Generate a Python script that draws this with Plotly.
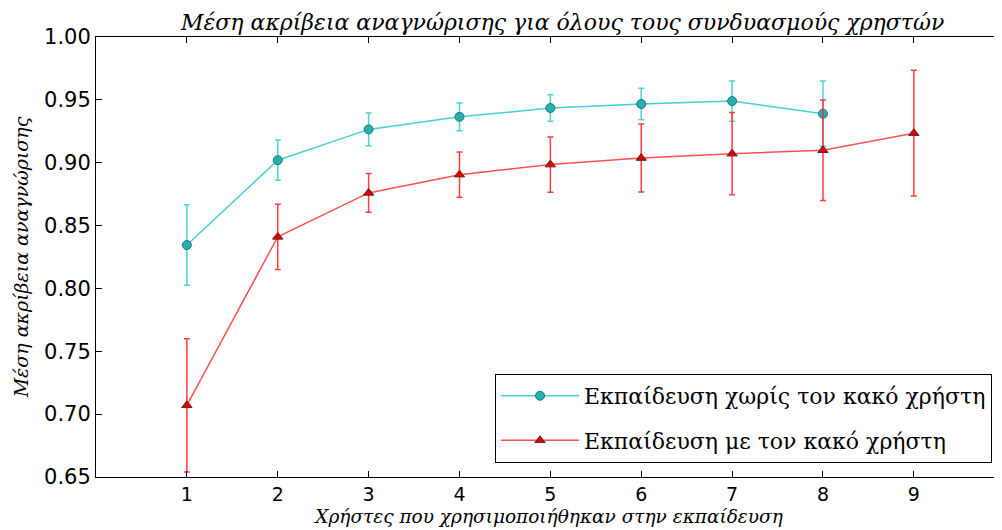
import plotly.graph_objects as go

users = [1, 2, 3, 4, 5, 6, 7, 8, 9]

without_bad_x = [1, 2, 3, 4, 5, 6, 7, 8]
without_bad = [0.8345, 0.902, 0.9265, 0.9365, 0.9435, 0.9467, 0.949, 0.939]
without_bad_err = [0.032, 0.016, 0.013, 0.011, 0.0105, 0.0126, 0.016, 0.026]

with_bad_x = [1, 2, 3, 4, 5, 6, 7, 8, 9]
with_bad = [0.707, 0.841, 0.876, 0.8905, 0.8985, 0.9037, 0.9072, 0.9099, 0.9235]
with_bad_err = [0.053, 0.026, 0.0155, 0.018, 0.022, 0.027, 0.0327, 0.040, 0.050]

title = "Μέση ακρίβεια αναγνώρισης για όλους τους συνδυασμούς χρηστών"
xlabel = "Χρήστες που χρησιμοποιήθηκαν στην εκπαίδευση"
ylabel = "Μέση ακρίβεια αναγνώρισης"
name_without = "Εκπαίδευση χωρίς τον κακό χρήστη"
name_with = "Εκπαίδευση με τον κακό χρήστη"

serif = "DejaVu Serif"
sans = "DejaVu Sans"

fig = go.Figure()
fig.add_trace(go.Scatter(
    x=without_bad_x, y=without_bad, name=name_without, mode="lines+markers",
    legendgroup="a",
    line=dict(color="rgba(38,200,200,0.85)", width=1.5),
    marker=dict(symbol="circle", size=9, color="#1FB3B3", line=dict(color="#2F6F6F", width=1)),
    error_y=dict(type="data", array=without_bad_err, visible=True, color="rgba(60,205,205,0.9)",
                 thickness=1.5, width=3),
))
fig.add_trace(go.Scatter(
    x=with_bad_x, y=with_bad, name=name_with, mode="lines+markers",
    legendgroup="b",
    line=dict(color="rgba(255,50,50,0.85)", width=1.5),
    marker=dict(symbol="triangle-up", size=9, color="#DD0000", line=dict(color="#702020", width=1)),
    error_y=dict(type="data", array=with_bad_err, visible=True, color="rgba(255,40,40,0.9)",
                 thickness=1.5, width=3),
))

fig.update_layout(
    width=994, height=522,
    margin=dict(l=88, r=0, t=29, b=53, autoexpand=False),
    paper_bgcolor="white", plot_bgcolor="white",
    title=dict(text=title, x=0.558, xanchor="center", y=0.972, yanchor="middle",
               font=dict(family=serif, size=22, color="black", style="italic")),
    showlegend=True,
    legend=dict(x=0.989, y=0.032, xanchor="right", yanchor="bottom",
                bgcolor="white", bordercolor="black", borderwidth=1,
                font=dict(family=serif, size=22, color="black"),
                itemwidth=78, traceorder="grouped", tracegroupgap=13),
    xaxis=dict(range=[0, 9.97], tickvals=users, ticktext=[str(u) for u in users],
               automargin=False,
               showgrid=False, zeroline=False, showline=True, linecolor="black", linewidth=1,
               mirror="allticks", ticks="inside", ticklen=6, tickcolor="black",
               tickfont=dict(family=sans, size=19, color="black"),
               title=dict(text=xlabel, font=dict(family=serif, size=18.5, color="black", style="italic"),
                          standoff=6)),
    yaxis=dict(range=[0.65, 1.0], tickvals=[0.65, 0.70, 0.75, 0.80, 0.85, 0.90, 0.95, 1.00],
               ticktext=["0.65", "0.70", "0.75", "0.80", "0.85", "0.90", "0.95", "1.00"],
               automargin=False,
               showgrid=False, zeroline=False, showline=True, linecolor="black", linewidth=1,
               mirror="allticks", ticks="inside", ticklen=6, tickcolor="black",
               tickfont=dict(family=sans, size=21, color="black"),
               title=dict(text=ylabel, font=dict(family=serif, size=19, color="black", style="italic"),
                          standoff=10)),
)

fig.write_html("out.html")
